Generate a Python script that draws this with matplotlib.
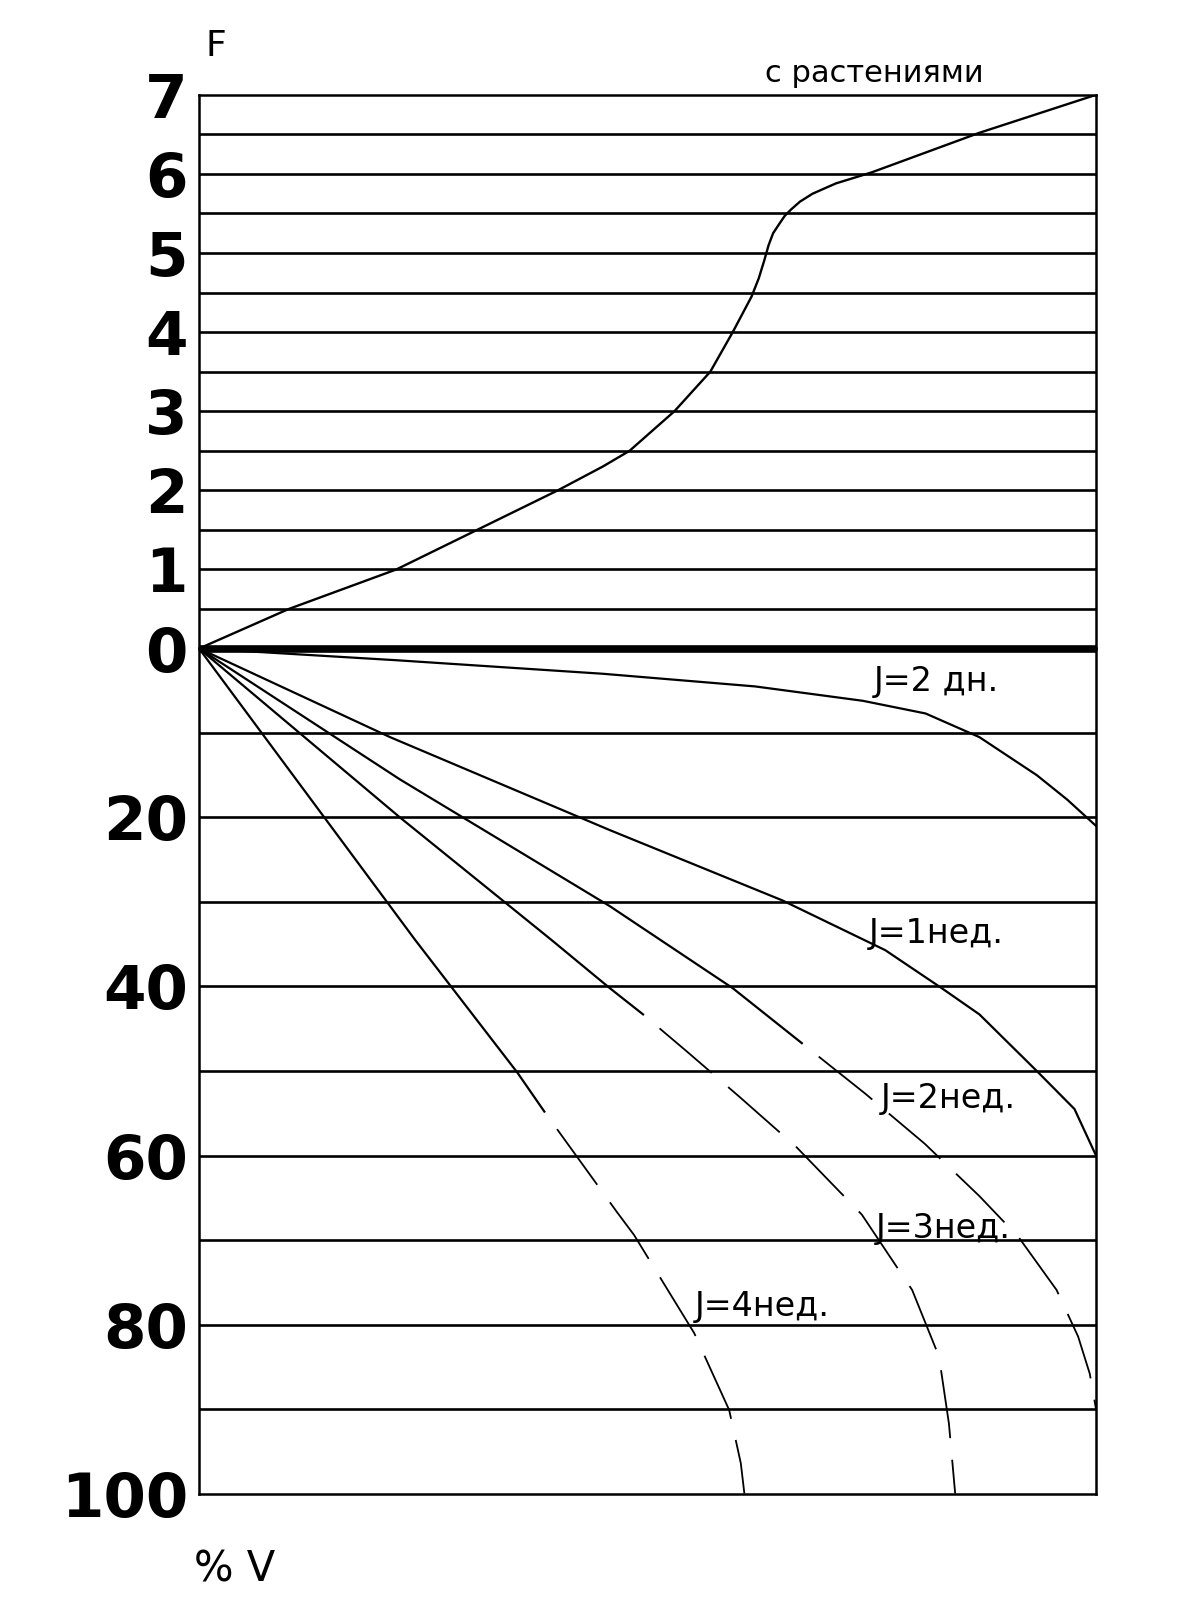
import matplotlib.pyplot as plt

# верхняя часть: F, кривая "с растениями"
plants_x = [0, 10, 22, 31, 40, 45, 48, 53, 57, 59.5, 61.6, 62.4, 63, 63.5, 64.0, 64.7, 65.3, 66, 67, 68.4, 71, 75, 87, 100]
plants_f = [0, 0.5, 1.0, 1.5, 2.0, 2.3, 2.5, 3.0, 3.5, 4.0, 4.45, 4.68, 4.9, 5.1, 5.25, 5.37, 5.47, 5.55, 5.65, 5.75, 5.88, 6.02, 6.52, 7.0]

# нижняя часть: % V
days2_x = [0, 22, 45, 62, 74, 81, 87, 93.4, 96.8, 100]
days2_v = [0, 1.4, 3.0, 4.5, 6.2, 7.7, 10.5, 15, 17.9, 21]

week1_x = [0, 21.3, 45.8, 65, 76.5, 82.8, 87, 93.4, 97.6, 100]
week1_v = [0, 10.5, 21.5, 29.8, 35.7, 40.2, 43.3, 50, 54.5, 60]

# сплошной участок и пунктирное продолжение
week2_x = [0, 22.4, 45.8, 59.5, 67.2]
week2_v = [0, 15.5, 30.5, 40.2, 46.7]
week2_dash_x = [67.2, 74.3, 80.9, 87, 91.4, 95.6, 98, 99.3, 100]
week2_dash_v = [46.7, 52.7, 58.6, 64.8, 69.7, 75.9, 81.4, 85.8, 90]

week3_x = [0, 22.4, 39.3, 45.8, 49.5]
week3_v = [0, 20, 34.5, 40.2, 43.3]
week3_dash_x = [49.5, 54.4, 60.3, 66.6, 73.9, 79.5, 82.5, 83.6, 84.3]
week3_dash_v = [43.3, 47.7, 53.1, 59, 67, 75.9, 83.8, 91.7, 100]

week4_x = [0, 24.1, 35.5, 38.5]
week4_v = [0, 34.5, 50.2, 54.8]
week4_dash_x = [38.5, 46.6, 48.5, 55.2, 59.1, 60.4, 60.8]
week4_dash_v = [54.8, 66.7, 69.4, 81, 90.1, 96.4, 100]

f_ticks = [0, 1, 2, 3, 4, 5, 6, 7]
f_grid = [0.5, 1, 1.5, 2, 2.5, 3, 3.5, 4, 4.5, 5, 5.5, 6, 6.5]
v_ticks = [20, 40, 60, 80, 100]
v_grid = [10, 20, 30, 40, 50, 60, 70, 80, 90]

curve_labels = ["J=2 дн.", "J=1нед.", "J=2нед.", "J=3нед.", "J=4нед."]


def main():
    fig = plt.figure(figsize=(11.96, 15.99), dpi=100)
    ax_f = fig.add_axes([0.1664, 0.5944, 0.75, 0.3463])
    ax_v = fig.add_axes([0.1664, 0.0659, 0.75, 0.5286])
    # нижняя ось не должна закрывать толстую нулевую линию
    ax_v.patch.set_visible(False)

    for ax in (ax_f, ax_v):
        ax.set_xlim(0, 100)
        ax.set_xticks([])
        for sp in ax.spines.values():
            sp.set_linewidth(1.8)
        ax.tick_params(axis="y", length=0, pad=8)
    ax_f.spines["bottom"].set_visible(False)
    ax_v.spines["top"].set_visible(False)

    # F сверху
    ax_f.set_ylim(0, 7)
    ax_f.set_yticks(f_ticks)
    ax_f.set_yticklabels([str(t) for t in f_ticks], fontsize=44, fontweight="heavy")
    for f in f_grid:
        ax_f.axhline(f, color="black", lw=1.9)
    ax_f.axhline(0, color="black", lw=5.5, clip_on=False, zorder=5,
                 solid_capstyle="butt")
    ax_f.plot(plants_x, plants_f, color="black", lw=1.7)
    ax_f.text(75.3, 7.27, "с растениями", fontsize=22, ha="center", va="center")

    # % V снизу
    ax_v.set_ylim(100, 0)
    ax_v.set_yticks(v_ticks)
    ax_v.set_yticklabels([str(t) for t in v_ticks], fontsize=44, fontweight="heavy")
    for v in v_grid:
        ax_v.axhline(v, color="black", lw=1.9)

    ax_v.plot(days2_x, days2_v, color="black", lw=1.6)
    ax_v.plot(week1_x, week1_v, color="black", lw=1.6)
    dash = (38, (38, 12))
    for sx, sv, dx, dv in [(week2_x, week2_v, week2_dash_x, week2_dash_v),
                           (week3_x, week3_v, week3_dash_x, week3_dash_v),
                           (week4_x, week4_v, week4_dash_x, week4_dash_v)]:
        ax_v.plot(sx, sv, color="black", lw=1.6)
        ax_v.plot(dx, dv, color="black", lw=1.3, linestyle=dash)

    label_pos = [(82.2, 3.9), (82.2, 33.7), (83.5, 53.3), (83, 68.6), (62.8, 77.9)]
    for text, (lx, lv) in zip(curve_labels, label_pos):
        ax_v.text(lx, lv, text, fontsize=24, ha="center", va="center")

    fig.text(216 / 1196, 1 - 46 / 1599, "F", fontsize=26, ha="center", va="center")
    fig.text(235 / 1196, 1 - 1570 / 1599, "% V", fontsize=30, ha="center", va="center")

    plt.savefig("out.png", dpi=100)
    plt.close()


if __name__ == "__main__":
    main()
